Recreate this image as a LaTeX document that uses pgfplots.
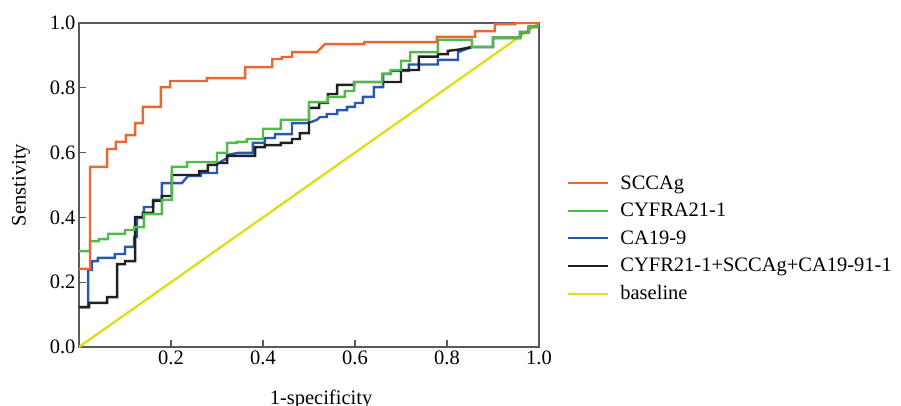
\documentclass[border=0pt]{standalone}
\usepackage{pgfplots}
\pgfplotsset{compat=1.18}
\usepackage{fontspec}
\setmainfont{Liberation Serif}
\newcommand{\myfont}{\fontsize{20.5bp}{24bp}\selectfont}
\definecolor{cOrange}{RGB}{232,104,52}
\definecolor{cGreen}{RGB}{80,186,74}
\definecolor{cBlue}{RGB}{40,88,180}
\definecolor{cBlack}{RGB}{32,32,32}
\definecolor{cYellow}{RGB}{222,222,30}
\definecolor{cAxis}{RGB}{90,90,90}
\begin{document}
\begin{tikzpicture}
\begin{axis}[
  name=ax,
  scale only axis,
  width=460bp, height=324bp,
  xmin=0, xmax=1, ymin=0, ymax=1,
  axis line style={draw=cAxis, line width=1.1bp},
  tick style={draw=cAxis, line width=1.1bp},
  tick align=inside,
  tick pos=left,
  major tick length=7bp,
  xtick={0.2,0.4,0.6,0.8,1.0},
  ytick={0,0.2,0.4,0.6,0.8,1.0},
  /pgf/number format/assume math mode=true,
  xticklabel style={font=\myfont, /pgf/number format/.cd, fixed, fixed zerofill, precision=1},
  yticklabel style={font=\myfont, /pgf/number format/.cd, fixed, fixed zerofill, precision=1},
  xlabel={1-specificity},
  ylabel={Senstivity},
  label style={font=\myfont},
  xlabel style={xshift=12bp, yshift=-19bp},
  ylabel style={yshift=13bp},
  legend style={draw=none, fill=none, font=\myfont, at={(1,0.335)}, anchor=west, xshift=28bp,
    row sep=8.5bp, inner sep=0pt},
  legend cell align=left,
  legend image code/.code={\draw[#1, line width=2bp] (0bp,0bp) -- (40bp,0bp); \path (49bp,0bp);},
  every axis plot/.append style={line width=2.4bp},
]
\coordinate (sw) at (rel axis cs:0,0);
\coordinate (ne) at (rel axis cs:1,1);
\addlegendimage{cOrange}\addlegendentry{SCCAg}
\addlegendimage{cGreen}\addlegendentry{CYFRA21-1}
\addlegendimage{cBlue}\addlegendentry{CA19-9}
\addlegendimage{cBlack}\addlegendentry{CYFR21-1+SCCAg+CA19-91-1}
\addlegendimage{cYellow}\addlegendentry{baseline}

% baseline
\addplot[cYellow, forget plot] coordinates {(0,0)(1,1)};

% CA19-9
\addplot[cBlue, forget plot] coordinates {
(0,0.123)(0.020,0.123)(0.020,0.238)(0.028,0.238)(0.028,0.265)(0.041,0.265)(0.041,0.275)
(0.078,0.275)(0.078,0.287)(0.100,0.287)(0.100,0.309)(0.120,0.309)(0.120,0.340)(0.126,0.340)
(0.126,0.398)(0.141,0.398)(0.141,0.432)(0.161,0.432)(0.161,0.454)(0.180,0.454)(0.180,0.506)
(0.224,0.506)(0.237,0.528)(0.265,0.528)(0.265,0.537)(0.300,0.537)(0.300,0.565)(0.311,0.574)
(0.322,0.583)(0.322,0.593)(0.346,0.599)(0.378,0.599)(0.378,0.630)(0.404,0.630)(0.404,0.645)
(0.426,0.645)(0.426,0.657)(0.463,0.657)(0.463,0.691)(0.498,0.691)(0.517,0.701)(0.524,0.710)
(0.539,0.710)(0.539,0.719)(0.561,0.719)(0.561,0.731)(0.583,0.731)(0.583,0.741)(0.600,0.741)
(0.600,0.753)(0.617,0.753)(0.617,0.772)(0.641,0.772)(0.641,0.802)(0.661,0.802)(0.661,0.843)
(0.678,0.843)(0.678,0.852)(0.717,0.852)(0.717,0.872)(0.780,0.872)(0.780,0.886)(0.824,0.886)
(0.824,0.910)(0.854,0.926)(0.900,0.926)(0.900,0.954)(0.959,0.954)(0.959,0.972)(0.978,0.972)
(0.978,0.988)(0.998,0.988)(1,1)};

% combination
\addplot[cBlack, forget plot] coordinates {
(0,0.123)(0.022,0.123)(0.022,0.136)(0.061,0.136)(0.061,0.154)(0.083,0.154)(0.083,0.256)
(0.100,0.256)(0.100,0.265)(0.122,0.265)(0.122,0.401)(0.139,0.401)(0.139,0.414)(0.161,0.414)
(0.161,0.451)(0.180,0.451)(0.180,0.466)(0.202,0.466)(0.202,0.531)(0.261,0.531)(0.261,0.543)
(0.280,0.543)(0.280,0.562)(0.300,0.562)(0.300,0.568)(0.322,0.568)(0.322,0.590)(0.383,0.590)
(0.383,0.617)(0.404,0.617)(0.404,0.623)(0.439,0.623)(0.439,0.630)(0.463,0.630)(0.463,0.642)
(0.480,0.642)(0.480,0.660)(0.500,0.660)(0.500,0.738)(0.522,0.738)(0.522,0.753)(0.541,0.753)
(0.541,0.781)(0.561,0.781)(0.561,0.809)(0.598,0.809)(0.598,0.818)(0.700,0.818)(0.700,0.855)
(0.739,0.855)(0.739,0.896)(0.780,0.896)(0.780,0.904)(0.802,0.904)(0.802,0.914)(0.826,0.918)
(0.854,0.926)(0.900,0.926)(0.900,0.954)(0.959,0.954)(0.959,0.972)(0.978,0.972)(0.978,0.988)
(0.998,0.988)(1,1)};

% CYFRA21-1
\addplot[cGreen, forget plot] coordinates {
(0,0.296)(0.024,0.296)(0.024,0.327)(0.043,0.327)(0.043,0.333)(0.063,0.333)(0.063,0.349)
(0.100,0.349)(0.100,0.361)(0.120,0.361)(0.120,0.370)(0.141,0.370)(0.141,0.410)(0.180,0.410)
(0.180,0.454)(0.202,0.454)(0.202,0.556)(0.235,0.556)(0.235,0.571)(0.300,0.571)(0.300,0.599)
(0.322,0.599)(0.322,0.630)(0.343,0.630)(0.343,0.633)(0.365,0.633)(0.365,0.642)(0.400,0.642)
(0.400,0.673)(0.439,0.673)(0.439,0.701)(0.500,0.701)(0.500,0.756)(0.541,0.756)(0.541,0.772)
(0.578,0.772)(0.578,0.790)(0.598,0.790)(0.598,0.818)(0.659,0.818)(0.659,0.843)(0.678,0.843)
(0.678,0.855)(0.700,0.855)(0.700,0.883)(0.720,0.883)(0.720,0.910)(0.780,0.910)(0.780,0.948)
(0.854,0.948)(0.854,0.926)(0.900,0.926)(0.900,0.954)(0.959,0.954)(0.959,0.972)(0.978,0.972)
(0.978,0.988)(0.998,0.988)(1,1)};

% SCCAg
\addplot[cOrange, forget plot] coordinates {
(0,0.241)(0.024,0.241)(0.024,0.556)(0.061,0.556)(0.061,0.611)(0.080,0.611)(0.080,0.633)
(0.102,0.633)(0.102,0.654)(0.122,0.654)(0.122,0.691)(0.139,0.691)(0.139,0.741)(0.178,0.741)
(0.178,0.802)(0.198,0.802)(0.198,0.821)(0.278,0.821)(0.278,0.830)(0.361,0.830)(0.361,0.864)
(0.420,0.864)(0.420,0.889)(0.441,0.889)(0.441,0.895)(0.463,0.895)(0.463,0.910)(0.517,0.910)
(0.535,0.935)(0.620,0.935)(0.620,0.941)(0.778,0.941)(0.778,0.957)(0.861,0.957)(0.861,0.975)
(0.904,0.975)(0.904,0.996)(0.948,0.996)(0.948,1)(1,1)};
\end{axis}
\pgfresetboundingbox
\path[use as bounding box] ([xshift=-79bp,yshift=-59bp]sw) rectangle ([xshift=362bp,yshift=23bp]ne);
\end{tikzpicture}
\end{document}
